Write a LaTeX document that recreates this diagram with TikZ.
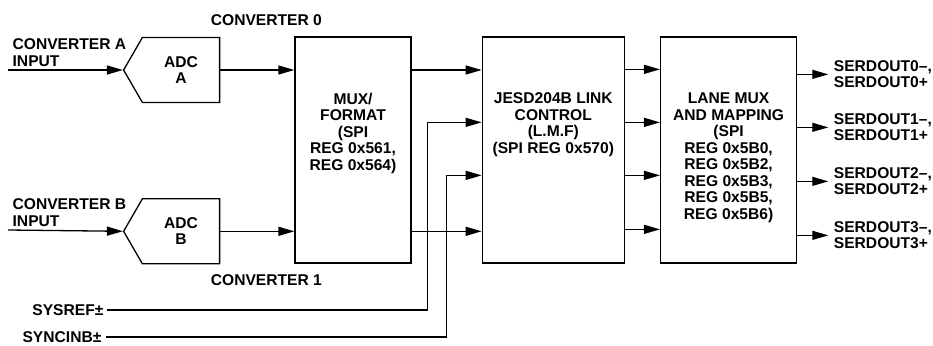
\documentclass[tikz,border=0pt]{standalone}
\usepackage{fontspec}
\setmainfont{Liberation Sans}
\usetikzlibrary{positioning, shapes.symbols, arrows.meta, calc}

\begin{document}
\begin{tikzpicture}[x=1pt, y=-1pt, >={Triangle[length=16pt,width=9pt]}, line width=1.3pt,
    every node/.style={font=\fontsize{15.6}{16.5}\selectfont\bfseries, inner sep=0pt},
    block/.style={draw, rectangle, minimum height=226pt},
    adc/.style={draw, signal, signal to=west, signal from=nowhere, signal pointer angle=120, minimum width=96pt, minimum height=65pt, align=center},
    lbl/.style={align=center}]
    \useasboundingbox (0,0) rectangle (933,345);

    % Converters A and B
    \node [adc] (adcA) at (181,70) {ADC\\A};
    \node [adc, below=95pt of adcA] (adcB) {ADC\\B};
    \coordinate (inA) at (8,70);
    \coordinate (inB) at (8,230);
    \node [lbl, align=left, anchor=south west] (labA) at ($(inA)+(4,-3)$) {CONVERTER A\\INPUT};
    \node [lbl, align=left, anchor=south west] (labB) at ($(inB)+(4,-3)$) {CONVERTER B\\INPUT};

    % Main blocks
    \node [block, minimum width=116pt] (mux) at (353,150) {};
    \node [block, minimum width=142pt, right=70pt of mux] (jesd) {};
    \node [block, minimum width=136pt, right=35pt of jesd] (lane) {};

    \node [lbl, below=56pt of mux.north] (muxtxt) {MUX/\\FORMAT\\(SPI\\REG 0x561,\\REG 0x564)};
    \node [lbl, below=56pt of jesd.north] (jesdtxt) {JESD204B LINK\\CONTROL\\(L.M.F)\\(SPI REG 0x570)};
    \node [lbl, below=56pt of lane.north] (lanetxt) {LANE MUX\\AND MAPPING\\(SPI\\REG 0x5B0,\\REG 0x5B2,\\REG 0x5B3,\\REG 0x5B5,\\REG 0x5B6)};

    \node [lbl, above=10pt of mux.north west, xshift=-28pt] (conv0) {CONVERTER 0};
    \node [lbl, below=10pt of mux.south west, xshift=-28pt] (conv1) {CONVERTER 1};

    % Clock / sync inputs
    \node [lbl, anchor=east] (sysref) at (104,310) {SYSREF±};
    \node [lbl, anchor=east] (syncinb) at (102,337) {SYNCINB±};

    % Outputs
    \coordinate (out0) at ($(lane.north east)+(31,38)$);
    \coordinate (out1) at ($(lane.north east)+(31,91)$);
    \coordinate (out2) at ($(lane.north east)+(31,145)$);
    \coordinate (out3) at ($(lane.north east)+(31,199)$);
    \node [lbl, align=left, right=5pt of out0] (serd0) {SERDOUT0–,\\SERDOUT0+};
    \node [lbl, align=left, right=5pt of out1] (serd1) {SERDOUT1–,\\SERDOUT1+};
    \node [lbl, align=left, right=5pt of out2] (serd2) {SERDOUT2–,\\SERDOUT2+};
    \node [lbl, align=left, right=5pt of out3] (serd3) {SERDOUT3–,\\SERDOUT3+};

    % Arrows
    \draw [->] (inA) -- (adcA.west);
    \draw [->] (inB) -- (adcB.west);
    \draw [->] (adcA.east) -- (adcA.east -| mux.west);
    \draw [->] (adcB.east) -- (adcB.east -| mux.west);
    \draw [->] (adcA.east -| mux.east) -- (adcA.east -| jesd.west);
    \draw [->] (adcB.east -| mux.east) -- (adcB.east -| jesd.west);
    \draw [->] ([xshift=3pt]sysref.east) -| ($(jesd.north west)+(-54,86)$) -- ($(jesd.north west)+(0,86)$);
    \draw [->] ([xshift=4pt]syncinb.east) -| ($(jesd.north west)+(-35,139)$) -- ($(jesd.north west)+(0,139)$);

    \draw [->] ($(jesd.north east)+(0,33)$) -- ($(lane.north west)+(0,33)$);
    \draw [->] ($(jesd.north east)+(0,86)$) -- ($(lane.north west)+(0,86)$);
    \draw [->] ($(jesd.north east)+(0,139)$) -- ($(lane.north west)+(0,139)$);
    \draw [->] ($(jesd.north east)+(0,193)$) -- ($(lane.north west)+(0,193)$);

    \draw [->] (out0 -| lane.east) -- (out0);
    \draw [->] (out1 -| lane.east) -- (out1);
    \draw [->] (out2 -| lane.east) -- (out2);
    \draw [->] (out3 -| lane.east) -- (out3);
\end{tikzpicture}
\end{document}
